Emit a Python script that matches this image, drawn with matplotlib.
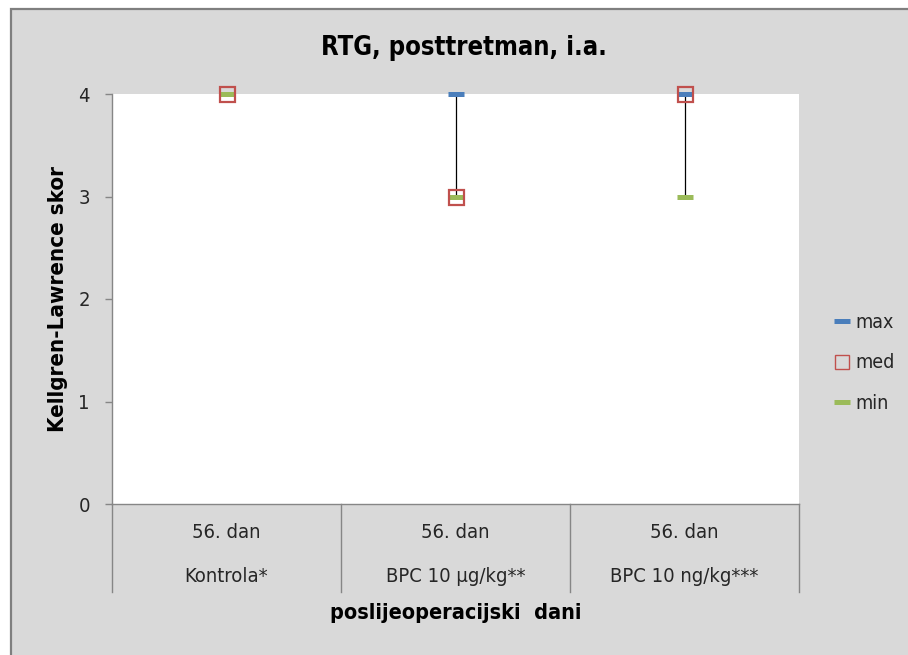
import matplotlib
matplotlib.use("Agg")
import matplotlib.pyplot as plt
from matplotlib.patches import Rectangle
from matplotlib.lines import Line2D
import matplotlib.transforms as mtransforms

plt.rcParams['font.family'] = ['DejaVu Sans']
plt.rcParams['font.stretch'] = 'condensed'

# ---- data ----
day_labels = ['56. dan', '56. dan', '56. dan']
categories = ['Kontrola*', 'BPC 10 µg/kg**', 'BPC 10 ng/kg***']
max_vals = [4, 4, 4]
med_vals = [4, 3, 4]
min_vals = [4, 3, 3]
yticks = [0, 1, 2, 3, 4]
title = 'RTG, posttretman, i.a.'
xlabel = 'poslijeoperacijski  dani'
ylabel = 'Kellgren-Lawrence skor'

BLUE = '#4a7ebb'
RED = '#c0504d'
GREEN = '#9bbb59'
GRID = '#868686'
TXT = '#262626'

fig = plt.figure(figsize=(9.08, 6.55), dpi=100)
fig.patch.set_facecolor('white')
frame = Rectangle((11 / 908, -0.05), 1.2, (655 - 9) / 655 + 0.05,
                  transform=fig.transFigure, facecolor='#d9d9d9',
                  edgecolor='#7f7f7f', linewidth=1.6, zorder=-10)
fig.patches.append(frame)

ax = fig.add_axes([112 / 908, (655 - 504) / 655, 687 / 908, 410 / 655])
ax.set_facecolor('white')

x = list(range(len(categories)))
ax.vlines(x, min_vals, max_vals, color='black', linewidth=0.9, zorder=2)
ax.plot(x, max_vals, ls='none', marker='_', ms=11.5, mew=3.6, color=BLUE,
        clip_on=False, zorder=3, label='max')
ax.plot(x, min_vals, ls='none', marker='_', ms=11.5, mew=3.6, color=GREEN,
        clip_on=False, zorder=4, label='min')
ax.plot(x, med_vals, ls='none', marker='s', ms=10.8, mfc='none', mec=RED,
        mew=1.6, clip_on=False, zorder=5, label='med')

ax.set_xlim(-0.5, len(categories) - 0.5)
ax.set_ylim(0, 4)
ax.set_yticks(yticks)
ax.set_yticklabels([str(v) for v in yticks])
ax.tick_params(axis='y', direction='out', length=5, width=1, color=GRID,
               labelsize=14.5, labelcolor=TXT, pad=11)
ax.set_xticks([])
for s in ['top', 'right']:
    ax.spines[s].set_visible(False)
for s in ['left', 'bottom']:
    ax.spines[s].set_color(GRID)
    ax.spines[s].set_linewidth(1)

# multi-level category axis
trans = mtransforms.blended_transform_factory(ax.transData, ax.transAxes)
sep_bottom = -(592 - 504) / 410
for b in [i - 0.5 for i in range(len(categories) + 1)]:
    ax.add_line(Line2D([b, b], [0, sep_bottom], transform=trans, color=GRID,
                       linewidth=1, clip_on=False))
for xi, d, c in zip(x, day_labels, categories):
    ax.text(xi, -(533 - 504) / 410, d, transform=trans, ha='center',
            va='center', fontsize=14.5, color=TXT)
    ax.text(xi, -(576 - 504) / 410, c, transform=trans, ha='center',
            va='center', fontsize=14.5, color=TXT)

ax.set_xlabel(xlabel, fontsize=15.5, fontweight='bold', color='black')
ax.xaxis.set_label_coords(0.5, -(613 - 504) / 410)
ax.xaxis.label.set_verticalalignment('center')
ax.set_ylabel(ylabel, fontsize=16, fontweight='bold', color='black')
ax.yaxis.set_label_coords((58 - 112) / 687, 0.5)
ax.yaxis.label.set_verticalalignment('center')

ax.set_title(title, fontsize=18.4, fontweight='bold', color='black',
             x=(464 - 112) / 687, y=(504 - 48) / 410, va='center', pad=0)

handles = [
    Line2D([], [], ls='none', marker='_', ms=11.5, mew=3.6, color=BLUE),
    Line2D([], [], ls='none', marker='s', ms=10.5, mfc='none', mec=RED, mew=1.0),
    Line2D([], [], ls='none', marker='_', ms=11.5, mew=3.6, color=GREEN),
]
fig.legend(handles, ['max', 'med', 'min'], loc='center left',
           bbox_to_anchor=(833.5 / 908, (655 - 363) / 655), frameon=False,
           fontsize=14, handlelength=0.85, handletextpad=0.25,
           labelspacing=1.12, labelcolor=TXT, borderpad=0, borderaxespad=0)

fig.savefig('out.png', dpi=100, facecolor=fig.get_facecolor())
